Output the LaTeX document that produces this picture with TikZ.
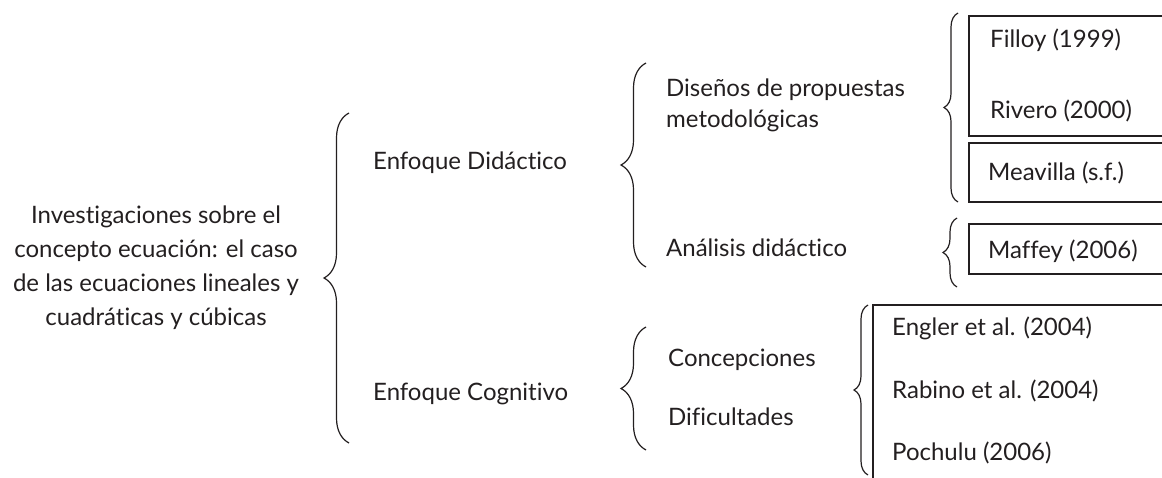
\documentclass[tikz,border=0pt]{standalone}
\usepackage{fontspec}
\setmainfont{Lato}[Ligatures=NoCommon]
\usepackage{xcolor}
\usepackage{tikz}
\usetikzlibrary{decorations.pathreplacing}
\definecolor{encre}{RGB}{35,31,32}
\newcommand*{\ampGrande}{25}
\newcommand*{\ampPetite}{14}
\newcommand*{\bordDroit}{1175}
\tikzset{
	accolade/.style={decorate,decoration={brace,amplitude=#1},line width=1.2pt,encre},
	texte/.style={anchor=base west,inner sep=0pt,text=encre,font=\fontsize{24}{31}\selectfont},
	boite/.style={line width=1.8pt,encre}
}

\begin{document}
\begin{tikzpicture}[x=1pt,y=-1pt]
	\useasboundingbox (0,0) rectangle (1162,477);
	\clip (0,0) rectangle (1162,477);

	\node[texte,anchor=base,align=center,font=\fontsize{24}{34}\selectfont] (racine) at (156,325)
		{Investigaciones sobre el\\concepto ecuación: el caso\\de las ecuaciones lineales y\\cuadráticas y cúbicas};

	\node[texte] (didactico) at (373,169) {Enfoque Didáctico};
	\node[texte] (cognitivo) at (373,400) {Enfoque Cognitivo};

	\node[texte,align=left] (disenos) at (666,127) {Diseños de propuestas\\metodológicas};
	\node[texte] (analisis) at (666,256) {Análisis didáctico};
	\node[texte] (concepciones) at (668,366) {Concepciones};
	\node[texte] (dificultades) at (668,425) {Dificultades};

	\node[texte] (filloy) at (990,47) {Filloy (1999)};
	\node[texte] (rivero) at (990,118) {Rivero (2000)};
	\node[texte] (meavilla) at (988,180) {Meavilla (s.f.)};
	\node[texte] (maffey) at (988,258) {Maffey (2006)};
	\node[texte] (engler) at (892,335) {Engler et al. (2004)};
	\node[texte] (rabino) at (892,398) {Rabino et al. (2004)};
	\node[texte] (pochulu) at (892,460) {Pochulu (2006)};

	% accolades
	\coordinate (a1b) at (349,443);
	\coordinate (a1h) at (349,113);
	\coordinate (a2b) at (646,267);
	\coordinate (a2h) at (646,63);
	\coordinate (a3b) at (646,450);
	\coordinate (a3h) at (646,327);
	\coordinate (a4b) at (958,202);
	\coordinate (a4h) at (958,13);
	\coordinate (a5b) at (957,287);
	\coordinate (a5h) at (957,218);
	\coordinate (a6b) at (868,475);
	\coordinate (a6h) at (868,305);
	\draw[accolade=\ampGrande] (a1b) -- (a1h);
	\draw[accolade=\ampGrande] (a2b) -- (a2h);
	\draw[accolade=\ampGrande] (a3b) -- (a3h);
	\draw[accolade=\ampPetite] (a4b) -- (a4h);
	\draw[accolade=\ampPetite] (a5b) -- (a5h);
	\draw[accolade=\ampPetite] (a6b) -- (a6h);

	% boites
	\draw[boite] (\bordDroit,16) -| (969,136) -- (\bordDroit,136);
	\draw[boite] (\bordDroit,143) -| (969,202) -- (\bordDroit,202);
	\draw[boite] (\bordDroit,224) -| (969,274) -- (\bordDroit,274);
	\draw[boite] (\bordDroit,305) -| (873,490);
\end{tikzpicture}
\end{document}
